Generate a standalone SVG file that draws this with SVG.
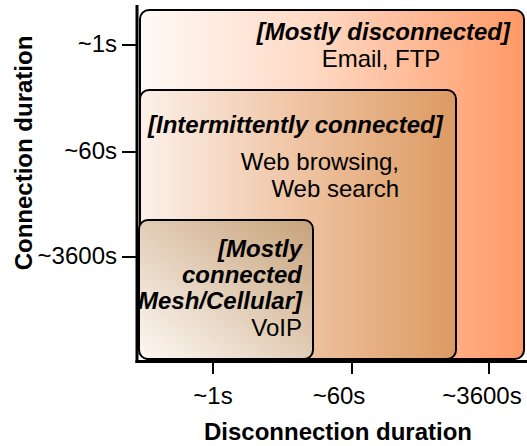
<svg xmlns="http://www.w3.org/2000/svg" width="527" height="446" viewBox="0 0 527 446">
<defs>
<linearGradient id="gOuter" x1="0" y1="0" x2="1" y2="0">
<stop offset="0" stop-color="#fffaf7"/>
<stop offset="0.45" stop-color="#ffd9c4"/>
<stop offset="1" stop-color="#ff9966"/>
</linearGradient>
<linearGradient id="gMid" x1="0" y1="0" x2="1" y2="0">
<stop offset="0" stop-color="#fcf1ea"/>
<stop offset="0.5" stop-color="#efc4a3"/>
<stop offset="1" stop-color="#dc9a62"/>
</linearGradient>
<linearGradient id="gIn" x1="0" y1="1" x2="1" y2="0">
<stop offset="0" stop-color="#fdf8f3"/>
<stop offset="1" stop-color="#c7a27a"/>
</linearGradient>
<style>
.box{stroke:#000;stroke-width:2}
.t{font-family:"Liberation Sans",Arial,Helvetica,sans-serif;fill:#000;font-size:24px}
.bi{font-weight:bold;font-style:italic}
.ax{font-weight:bold}
.ln{stroke:#000;fill:none}
</style>
</defs>
<g id="outer">
<rect class="box" x="140" y="10" width="384" height="349" rx="9" fill="url(#gOuter)"/>
<text class="t bi" x="510" y="40" text-anchor="end">[Mostly disconnected]</text>
<text class="t" x="381" y="67" text-anchor="middle">Email, FTP</text>
</g>
<g id="middle">
<rect class="box" x="140" y="90" width="316" height="269" rx="9" fill="url(#gMid)"/>
<text class="t bi" x="148" y="133">[Intermittently connected]</text>
<text class="t" x="399" y="170" text-anchor="end">Web browsing,</text>
<text class="t" x="399" y="197" text-anchor="end">Web search</text>
</g>
<g id="inner">
<rect class="box" x="139" y="220" width="174" height="139" rx="9" fill="url(#gIn)"/>
<text class="t bi" x="302" y="257" text-anchor="end">[Mostly</text>
<text class="t bi" x="302" y="283" text-anchor="end">connected</text>
<text class="t bi" x="302" y="309" text-anchor="end">Mesh/Cellular]</text>
<text class="t" x="302" y="336" text-anchor="end">VoIP</text>
</g>
<g id="axes">
<line class="ln" x1="137" y1="5" x2="137" y2="363" stroke-width="3"/>
<line class="ln" x1="135.5" y1="361.5" x2="527" y2="361.5" stroke-width="3"/>
<line class="ln" x1="122" y1="45" x2="137" y2="45" stroke-width="2"/>
<line class="ln" x1="122" y1="152" x2="137" y2="152" stroke-width="2"/>
<line class="ln" x1="122" y1="257" x2="137" y2="257" stroke-width="2"/>
<line class="ln" x1="213" y1="361" x2="213" y2="374" stroke-width="2"/>
<line class="ln" x1="352" y1="361" x2="352" y2="374" stroke-width="2"/>
<line class="ln" x1="489" y1="361" x2="489" y2="374" stroke-width="2"/>
<text class="t" x="117" y="52" text-anchor="end">~1s</text>
<text class="t" x="117" y="159" text-anchor="end">~60s</text>
<text class="t" x="117" y="264" text-anchor="end">~3600s</text>
<text class="t" x="213" y="404" text-anchor="middle">~1s</text>
<text class="t" x="339" y="404" text-anchor="middle">~60s</text>
<text class="t" x="482" y="404" text-anchor="middle">~3600s</text>
<text class="t ax" x="338" y="440" text-anchor="middle">Disconnection duration</text>
<text class="t ax" transform="translate(32,153) rotate(-90)" x="0" y="0" text-anchor="middle">Connection duration</text>
</g>
</svg>
